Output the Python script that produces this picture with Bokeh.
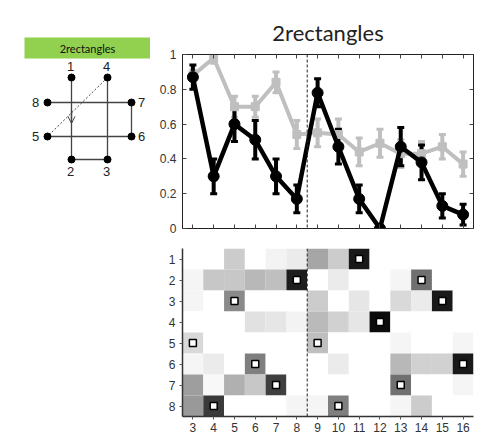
from bokeh.plotting import figure
from bokeh.layouts import row, column
from bokeh.models import (Range1d, FixedTicker, LinearAxis, Whisker, ColumnDataSource,
                          Span, Arrow, OpenHead, LinearColorMapper, TeeHead,
                          NumeralTickFormatter)
from bokeh.embed import file_html
from bokeh.resources import INLINE
from bokeh.core.properties import value

# ---------------- data ----------------
title_text = "2rectangles"
positions = list(range(3, 17))
black_mean = [0.87, 0.30, 0.60, 0.51, 0.30, 0.17, 0.78, 0.47, 0.17, 0.00, 0.47, 0.38, 0.13, 0.08]
black_err = [0.07, 0.10, 0.10, 0.11, 0.10, 0.08, 0.08, 0.10, 0.08, 0.00, 0.11, 0.10, 0.07, 0.06]
gray_mean = [0.88, 0.98, 0.70, 0.70, 0.84, 0.54, 0.55, 0.54, 0.44, 0.49, 0.43, 0.43, 0.47, 0.37]
gray_err = [0.03, 0.03, 0.06, 0.06, 0.06, 0.08, 0.08, 0.09, 0.08, 0.08, 0.08, 0.07, 0.07, 0.07]
y_ticks = [0, 0.2, 0.4, 0.6, 0.8, 1.0]
divider_x = 8.5

row_labels = [1, 2, 3, 4, 5, 6, 7, 8]
heat_row1 = [0, 0, 0.20, 0, 0.05, 0.08, 0.35, 0.20, 0.90, 0, 0, 0, 0, 0]
heat_row2 = [0.04, 0.22, 0.22, 0.28, 0.25, 0.88, 0, 0.08, 0, 0, 0.04, 0.56, 0, 0]
heat_row3 = [0.04, 0, 0.46, 0, 0, 0, 0.20, 0, 0.10, 0, 0.15, 0.08, 0.90, 0]
heat_row4 = [0, 0, 0, 0.12, 0.10, 0.05, 0.27, 0.18, 0.10, 0.95, 0, 0, 0, 0]
heat_row5 = [0.15, 0, 0, 0, 0, 0, 0.25, 0, 0, 0, 0.04, 0, 0, 0.04]
heat_row6 = [0.04, 0.08, 0, 0.50, 0, 0, 0, 0.08, 0, 0, 0.28, 0.18, 0.18, 0.90]
heat_row7 = [0.38, 0.03, 0.31, 0.22, 0.75, 0, 0, 0, 0, 0, 0.56, 0, 0, 0.04]
heat_row8 = [0.40, 0.77, 0, 0, 0, 0.04, 0.04, 0.50, 0, 0, 0.04, 0.20, 0, 0]
heat_rows = [heat_row1, heat_row2, heat_row3, heat_row4, heat_row5, heat_row6, heat_row7, heat_row8]
marker_row = [5, 8, 3, 6, 7, 2, 5, 8, 1, 4, 7, 2, 3, 6]

# diagram
node_ids = ["1", "2", "3", "4", "5", "6", "7", "8"]
node_x = [71, 71, 107, 107, 47, 131, 131, 47]
node_y = [77, 159, 159, 77, 136, 136, 102, 102]
label_dx = [-1, -1, -1, -1, -12, 10, 10, -12]
label_dy = [-11, 12, 12, -11, 0, 0, 0, 0]
edge_from = ["1", "4", "8", "5", "7", "2"]
edge_to = ["2", "3", "7", "6", "6", "3"]
dashed_from, dashed_to = "4", "5"
arrow_edge = ("1", "2")
arrow_frac = (0.40, 0.56)
header_box = (24, 150, 37, 58)

FONT = "Liberation Sans"

# ---------------- left diagram ----------------
d = figure(width=150, height=438, x_range=Range1d(0, 150), y_range=Range1d(438, 0),
           output_backend="svg", toolbar_location=None, min_border=0)
d.axis.visible = False
d.grid.visible = False
d.outline_line_color = None

hx0, hx1, hy0, hy1 = header_box
d.quad(left=[hx0], right=[hx1], top=[hy0], bottom=[hy1], fill_color="#92d050", line_color=None)
d.text(x=[(hx0 + hx1) / 2], y=[(hy0 + hy1) / 2], text=[title_text], text_align="center",
       text_baseline="middle", text_font=value("Lato"), text_font_size="11px", text_color="#111")

pos = {n: (x, y) for n, x, y in zip(node_ids, node_x, node_y)}
d.segment(x0=[pos[a][0] for a in edge_from], y0=[pos[a][1] for a in edge_from],
          x1=[pos[b][0] for b in edge_to], y1=[pos[b][1] for b in edge_to],
          line_color="#444", line_width=1.3)
d.segment(x0=[pos[dashed_from][0]], y0=[pos[dashed_from][1]],
          x1=[pos[dashed_to][0]], y1=[pos[dashed_to][1]],
          line_color="#444", line_width=1, line_dash="2 2")
ax0, ay0 = pos[arrow_edge[0]]
ax1, ay1 = pos[arrow_edge[1]]
d.add_layout(Arrow(x_start=ax0 + (ax1 - ax0) * arrow_frac[0], y_start=ay0 + (ay1 - ay0) * arrow_frac[0],
                   x_end=ax0 + (ax1 - ax0) * arrow_frac[1], y_end=ay0 + (ay1 - ay0) * arrow_frac[1],
                   end=OpenHead(size=7, line_width=1, line_color="#444"),
                   line_color="#444", line_width=1.3))
d.scatter(x=node_x, y=node_y, size=7, color="black")
d.text(x=[x + dx for x, dx in zip(node_x, label_dx)], y=[y + dy for y, dy in zip(node_y, label_dy)],
       text=node_ids, text_align="center", text_baseline="middle",
       text_font=value(FONT), text_font_size="13px", text_color="#222")

# ---------------- top chart ----------------
p = figure(width=345, height=235, x_range=Range1d(2.5, 16.5), y_range=Range1d(0, 1),
           output_backend="svg", toolbar_location=None, title=title_text,
           min_border_left=32, min_border_right=22, min_border_top=54, min_border_bottom=7)
p.title.align = "center"
p.title.text_font = "Lato"
p.title.text_font_style = "normal"
p.title.text_font_size = "22px"
p.title.text_color = "#222"
p.title.standoff = 17
p.grid.visible = False
p.outline_line_color = "#222"

p.xaxis.ticker = FixedTicker(ticks=positions)
p.xaxis.major_label_standoff = 0
p.yaxis.ticker = FixedTicker(ticks=y_ticks)
p.yaxis.formatter = NumeralTickFormatter(format="0.[0]")
for ax in [p.xaxis[0], p.yaxis[0]]:
    ax.major_tick_in = 4
    ax.major_tick_out = 0
    ax.minor_tick_line_color = None
    ax.axis_line_color = "#222"
    ax.major_tick_line_color = "#444"
    ax.major_label_text_font = FONT
    ax.major_label_text_font_size = "12px"
    ax.major_label_text_color = "#333"
p.xaxis.major_label_text_font_size = "0px"
p.xaxis.major_label_text_color = None
p.yaxis.major_label_standoff = 6

top_ax = LinearAxis(ticker=FixedTicker(ticks=positions), major_label_text_font_size="0px",
                    major_label_text_color=None,
                    major_label_standoff=0, major_tick_in=4, major_tick_out=0,
                    minor_tick_line_color=None, axis_line_color="#222", major_tick_line_color="#444")
right_ax = LinearAxis(ticker=FixedTicker(ticks=y_ticks), major_label_text_font_size="0px",
                      major_label_text_color=None,
                      major_label_standoff=0, major_tick_in=4, major_tick_out=0,
                      minor_tick_line_color=None, axis_line_color="#222", major_tick_line_color="#444")
p.add_layout(top_ax, "above")
p.add_layout(right_ax, "right")

p.add_layout(Span(location=divider_x, dimension="height", line_color="#222",
                  line_width=1, line_dash="3 2"))

gsrc = ColumnDataSource(dict(x=positions, y=gray_mean,
                             lo=[m - e for m, e in zip(gray_mean, gray_err)],
                             hi=[m + e for m, e in zip(gray_mean, gray_err)]))
bsrc = ColumnDataSource(dict(x=positions, y=black_mean,
                             lo=[m - e for m, e in zip(black_mean, black_err)],
                             hi=[m + e for m, e in zip(black_mean, black_err)]))
gcol = "#bfbfbf"
p.line("x", "y", source=gsrc, line_color=gcol, line_width=4)
p.add_layout(Whisker(source=gsrc, base="x", lower="lo", upper="hi", line_color=gcol, line_width=4,
                     upper_head=TeeHead(size=7, line_color=gcol, line_width=3),
                     lower_head=TeeHead(size=7, line_color=gcol, line_width=3)))
p.scatter("x", "y", source=gsrc, marker="square", size=8, color=gcol)

p.line("x", "y", source=bsrc, line_color="black", line_width=4.5)
p.add_layout(Whisker(source=bsrc, base="x", lower="lo", upper="hi", line_color="black", line_width=4,
                     upper_head=TeeHead(size=7, line_color="black", line_width=3),
                     lower_head=TeeHead(size=7, line_color="black", line_width=3)))
p.scatter("x", "y", source=bsrc, size=11, color="black")

# ---------------- heatmap ----------------
h = figure(width=345, height=203, x_range=Range1d(2.5, 16.5), y_range=Range1d(8.5, 0.5),
           output_backend="svg", toolbar_location=None,
           min_border_left=32, min_border_right=22, min_border_top=13, min_border_bottom=22)
h.grid.visible = False
h.outline_line_color = None

hx, hy, hv = [], [], []
for r, vals in zip(row_labels, heat_rows):
    for c, v in zip(positions, vals):
        hx.append(c)
        hy.append(r)
        hv.append(v)
palette = ["#%02x%02x%02x" % (g, g, g) for g in range(255, -1, -1)]
mapper = LinearColorMapper(palette=palette, low=0, high=1)
hsrc = ColumnDataSource(dict(x=hx, y=hy, v=hv))
h.rect(x="x", y="y", width=1, height=1, fill_color={"field": "v", "transform": mapper},
       line_color=None, source=hsrc)
h.add_layout(Span(location=divider_x, dimension="height", line_color="#222",
                  line_width=1, line_dash="3 2"))
h.scatter(x=positions, y=marker_row, marker="square", size=7, fill_color="white",
          line_color="black", line_width=1.5)

h.xaxis.ticker = FixedTicker(ticks=positions)
h.yaxis.ticker = FixedTicker(ticks=row_labels)
for ax in [h.xaxis[0], h.yaxis[0]]:
    ax.major_tick_in = 0
    ax.major_tick_out = 3
    ax.minor_tick_line_color = None
    ax.axis_line_color = "#333"
    ax.axis_line_width = 1.5
    ax.major_tick_line_color = "#555"
    ax.major_label_text_font = FONT
    ax.major_label_text_font_size = "12px"
    ax.major_label_text_color = "#333"
h.xaxis.major_label_standoff = 3
h.yaxis.major_label_standoff = 4

layout = row(d, column(p, h, spacing=0), spacing=0)
open("out.html", "w").write(file_html(layout, INLINE))
